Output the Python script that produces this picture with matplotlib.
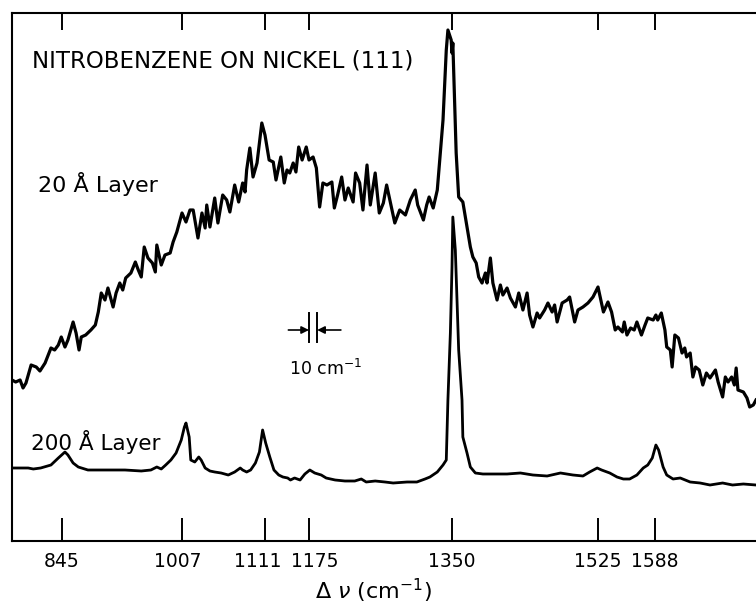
import numpy as np
import matplotlib
matplotlib.use("Agg")
import matplotlib.pyplot as plt
import matplotlib.transforms as mtransforms

# ---------------- data ----------------
# Raman shift (cm^-1) and intensity (arbitrary units) of the 20 Å layer
x20 = [777, 782, 788, 792, 796, 803, 810, 815, 822, 830, 835, 840, 844, 849, 853, 860, 864, 868,
       871, 877, 884, 890, 894, 898, 903, 907, 914, 918, 923, 927, 931, 938, 944, 948, 952, 956,
       961, 967, 971, 973, 979, 984, 991, 995, 1000, 1007, 1012, 1017, 1021, 1027, 1032, 1036,
       1038, 1042, 1048, 1052, 1058, 1063, 1067, 1073, 1078, 1083, 1086, 1088, 1092, 1096, 1101,
       1107, 1111, 1117, 1123, 1127, 1134, 1139, 1143, 1147, 1152, 1156, 1160, 1165, 1171, 1175,
       1180, 1184, 1188, 1192, 1197, 1203, 1206, 1210, 1215, 1219, 1223, 1229, 1232, 1237, 1241,
       1246, 1250, 1256, 1261, 1266, 1270, 1274, 1280, 1286, 1293, 1299, 1305, 1308, 1315, 1319,
       1322, 1327, 1332, 1334, 1339, 1343, 1345, 1349, 1350, 1351, 1352, 1355, 1358, 1363, 1368,
       1372, 1375, 1379, 1382, 1386, 1390, 1392, 1396, 1399, 1404, 1408, 1411, 1416, 1420, 1426,
       1430, 1435, 1440, 1443, 1447, 1452, 1455, 1461, 1465, 1470, 1473, 1476, 1482, 1488, 1491,
       1497, 1501, 1507, 1513, 1519, 1525, 1531, 1536, 1540, 1544, 1547, 1552, 1554, 1557, 1561,
       1565, 1568, 1573, 1577, 1580, 1586, 1589, 1591, 1595, 1599, 1601, 1605, 1607, 1610, 1614,
       1618, 1621, 1623, 1627, 1630, 1633, 1637, 1641, 1645, 1649, 1655, 1658, 1663, 1666, 1669,
       1673, 1676, 1678, 1680, 1686, 1690, 1693, 1697, 1700]
y20 = [161, 159, 161, 153, 158, 176, 174, 170, 178, 193, 191, 196, 204, 194, 201, 219, 208, 191,
       204, 206, 211, 216, 229, 248, 241, 253, 234, 248, 258, 251, 263, 268, 279, 271, 264, 294,
       283, 278, 269, 296, 276, 286, 288, 299, 309, 328, 319, 331, 331, 303, 328, 313,
       336, 314, 343, 318, 346, 341, 329, 356, 339, 358, 349, 371, 393, 364, 378,
       418, 406, 381, 379, 361, 384, 358, 371, 368, 378, 369, 394, 381, 394, 381,
       384, 373, 334, 358, 356, 359, 333, 346, 364, 341, 353, 339, 368, 358, 331,
       376, 336, 368, 328, 338, 356, 341, 318, 331, 326, 341, 351, 336, 321, 336,
       344, 333, 351, 371, 421, 491, 511, 501, 488, 498, 471, 388, 344, 339, 314,
       294, 284, 278, 264, 258, 268, 258, 283, 258, 241, 256, 246, 253, 243, 234,
       248, 231, 248, 226, 214, 228, 223, 231, 238, 229, 236, 219, 238, 241, 244,
       219, 231, 234, 238, 244, 254, 229, 239, 229, 211, 214, 209, 219, 206, 213,
       211, 219, 206, 216, 223, 221, 226, 221, 228, 211, 194, 191, 174, 206, 203,
       188, 193, 184, 188, 164, 174, 171, 156, 168, 163, 171, 159, 144, 164, 159,
       164, 156, 173, 151, 149, 143, 134, 136, 141]

# Raman shift (cm^-1) and intensity of the 200 Å layer
x200 = [777, 785, 799, 806, 816, 830, 840, 849, 853, 860, 867, 880, 907, 930, 952, 965, 973, 979,
        985, 992, 999, 1006, 1010, 1012, 1016, 1018, 1023, 1028, 1031, 1036, 1042, 1048, 1056,
        1065, 1073, 1080, 1083, 1088, 1093, 1099, 1104, 1108, 1112, 1118, 1124, 1131, 1137, 1144,
        1148, 1154, 1162, 1169, 1176, 1182, 1190, 1196, 1207, 1219, 1231, 1239, 1245, 1256, 1268,
        1278, 1295, 1307, 1317, 1323, 1332, 1339, 1343, 1345, 1348, 1350, 1351, 1354, 1356, 1358,
        1362, 1363, 1368, 1372, 1378, 1387, 1404, 1416, 1432, 1447, 1464, 1480, 1495, 1507, 1515,
        1524, 1529, 1538, 1546, 1553, 1560, 1568, 1575, 1580, 1585, 1589, 1592, 1597, 1601, 1608,
        1616, 1627, 1638, 1649, 1663, 1674, 1686, 1700]
y200 = [73, 73, 73, 72, 73, 76, 83, 89, 86, 78, 74, 71, 71, 71, 70, 71, 74, 72,
        76, 81, 88, 101, 114, 118, 104, 81, 79, 84, 81, 73, 70, 69, 68,
        66, 69, 73, 71, 69, 71, 78, 89, 111, 98, 84, 71, 66, 64, 63,
        61, 63, 61, 67, 71, 68, 66, 63, 61, 60, 60, 62, 59, 60, 59,
        58, 59, 59, 62, 64, 69, 76, 81, 141, 208, 274, 324, 291, 241, 191,
        141, 104, 88, 74, 68, 67, 67, 67, 68, 66, 65, 68, 66, 65, 69,
        73, 71, 68, 64, 62, 62, 66, 73, 76, 83, 96, 91, 74, 66, 62,
        63, 59, 58, 56, 58, 56, 57, 56]

tick_values = [845, 1007, 1111, 1175, 1350, 1525, 1588]
tick_labels = ["845", "1007", "1111", "1175", "1350", "1525", "1588"]

# the chart-recorder axis is not linear in cm^-1: calibration knots (cm^-1 -> relative position)
scale_cm = np.array([777, 845, 1007, 1111, 1175, 1350, 1525, 1588, 1700], dtype=float)
scale_pos = np.array([12, 62, 182, 265, 309, 452, 598, 655, 756], dtype=float)


def _pw(x, xp, fp):
    x = np.asarray(x, dtype=float)
    out = np.interp(x, xp, fp)
    lo = x < xp[0]
    hi = x > xp[-1]
    s0 = (fp[1] - fp[0]) / (xp[1] - xp[0])
    s1 = (fp[-1] - fp[-2]) / (xp[-1] - xp[-2])
    out = np.where(lo, fp[0] + (x - xp[0]) * s0, out)
    out = np.where(hi, fp[-1] + (x - xp[-1]) * s1, out)
    return out


def fwd(x):
    return _pw(x, scale_cm, scale_pos)


def inv(p):
    return _pw(p, scale_pos, scale_cm)


# ---------------- figure ----------------
plt.rcParams['font.family'] = ['DejaVu Sans']
W, H = 756, 604
fig = plt.figure(figsize=(W / 100, H / 100), dpi=100)
left, right, top, bottom = 12, 756, 13, 541
ax = fig.add_axes([left / W, (H - bottom) / H, (right - left) / W, (bottom - top) / H])
ax.set_xscale('function', functions=(fwd, inv))
ax.set_xlim(777, 1700)
ax.set_ylim(0, 528)

ax.plot(x20, y20, color='black', lw=2.3, solid_joinstyle='round')
ax.plot(x200, y200, color='black', lw=2.0, solid_joinstyle='round')

for s in ['left', 'top', 'bottom']:
    ax.spines[s].set_linewidth(1.5)
ax.spines['right'].set_visible(False)

ax.set_yticks([])
ax.set_xticks(tick_values)
ax.set_xticklabels(tick_labels, fontsize=13.5)
ax.xaxis.set_minor_locator(matplotlib.ticker.NullLocator())
ax.tick_params(axis='x', which='major', direction='in', top=True, bottom=True,
               length=16.5, width=1.4, pad=8)
for t in ax.xaxis.get_major_ticks():
    t.tick2line.set_markersize(12)

# nudge the crowded labels apart like the hand lettering
shifts = {"1111": -7, "1175": 6, "1007": -4}
for lab in ax.get_xticklabels():
    dx = shifts.get(lab.get_text(), 0)
    if dx:
        lab.set_transform(lab.get_transform() +
                          mtransforms.ScaledTranslation(dx / 100, 0, fig.dpi_scale_trans))

# texts
ax.text(0.027, 0.896, "NITROBENZENE ON NICKEL (111)", transform=ax.transAxes,
        fontsize=16.5, ha='left', va='baseline')
ax.text(0.035, 0.661, "20 Å Layer", transform=ax.transAxes,
        fontsize=16, ha='left', va='baseline')
ax.text(0.0255, 0.172, "200 Å Layer", transform=ax.transAxes,
        fontsize=15.5, ha='left', va='baseline')
ax.text(0.421, 0.315, "10 cm$^{-1}$", transform=ax.transAxes,
        fontsize=12.5, ha='center', va='baseline')

# 10 cm^-1 resolution marker
ax.plot([1175, 1175], [199, 228], color='black', lw=1.4)
ax.plot([1185, 1185], [199, 228], color='black', lw=1.4)
ax.annotate('', xy=(1175, 211), xytext=(1145, 211),
            arrowprops=dict(arrowstyle='-|>', lw=1.2, color='black', mutation_scale=11,
                            shrinkA=0, shrinkB=0))
ax.annotate('', xy=(1185, 211), xytext=(1214, 211),
            arrowprops=dict(arrowstyle='-|>', lw=1.2, color='black', mutation_scale=11,
                            shrinkA=0, shrinkB=0))

fig.text(373 / W, 1 - 591 / H, "Δ $\\nu$ (cm$^{-1}$)", fontsize=16, ha='center', va='center')

fig.savefig("out.png", dpi=100)
